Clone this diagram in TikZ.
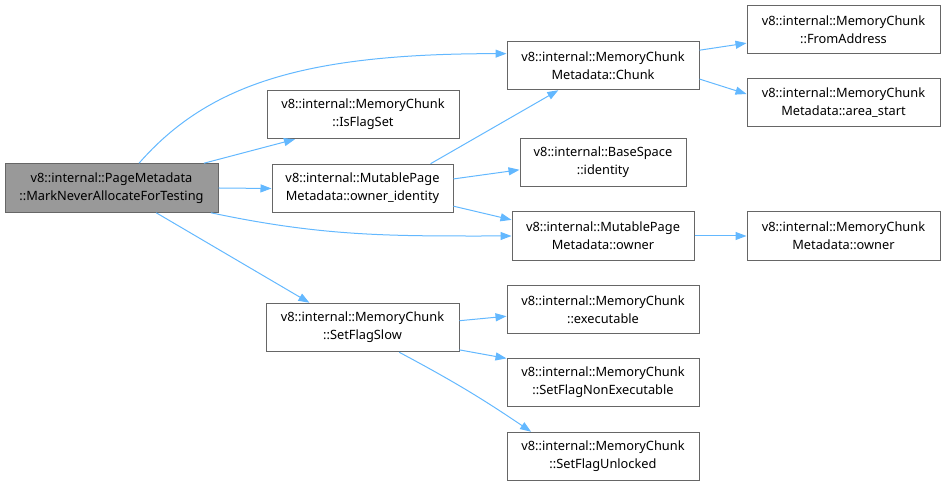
\documentclass[tikz,border=0pt]{standalone}
\usepackage{fontspec}
\setmainfont{Noto Sans}
\usepackage{tikz}
\usetikzlibrary{arrows.meta}
\usepackage{xcolor}
\definecolor{bord}{RGB}{102,102,102}
\definecolor{gris}{RGB}{153,153,153}
\definecolor{bleuciel}{RGB}{99,184,255}

\begin{document}
\begin{tikzpicture}[x=1pt,y=1pt,>={Triangle[length=11pt,width=8pt]},
  boite/.style={draw=bord,line width=1pt,fill=white,align=center,inner sep=0pt,
    minimum height=48.5pt,font=\fontsize{12.8}{18}\selectfont},
  fleche/.style={->,bleuciel,line width=1pt}]
  \useasboundingbox (0,0) rectangle (945,486);
  % fonction appelante
  \node[boite,fill=gris,minimum width=213pt] (racine) at (111.5,298)
    {v8::internal::PageMetadata\\::MarkNeverAllocateForTesting};
  % deuxieme colonne
  \node[boite,minimum width=192pt] (isflag) at (363,371.5)
    {v8::internal::MemoryChunk\\::IsFlagSet};
  \node[boite,minimum width=181pt] (ownid) at (362.5,297.5)
    {v8::internal::MutablePage\\Metadata::owner\_identity};
  \node[boite,minimum width=193pt] (setslow) at (362.5,158.5)
    {v8::internal::MemoryChunk\\::SetFlagSlow};
  % troisieme colonne
  \node[boite,minimum width=192pt] (chunk) at (603,420.5)
    {v8::internal::MemoryChunk\\Metadata::Chunk};
  \node[boite,minimum width=166pt] (ident) at (603,323.5)
    {v8::internal::BaseSpace\\::identity};
  \node[boite,minimum width=182pt] (mpowner) at (603,250)
    {v8::internal::MutablePage\\Metadata::owner};
  \node[boite,minimum width=192pt] (exec) at (603,176.5)
    {v8::internal::MemoryChunk\\::executable};
  \node[boite,minimum width=192pt] (nonexec) at (603,103.5)
    {v8::internal::MemoryChunk\\::SetFlagNonExecutable};
  \node[boite,minimum width=192pt] (unlocked) at (603,29.5)
    {v8::internal::MemoryChunk\\::SetFlagUnlocked};
  % quatrieme colonne
  \node[boite,minimum width=193pt] (fromaddr) at (843.5,456.5)
    {v8::internal::MemoryChunk\\::FromAddress};
  \node[boite,minimum width=193pt] (areastart) at (843.5,383.5)
    {v8::internal::MemoryChunk\\Metadata::area\_start};
  \node[boite,minimum width=193pt] (mcowner) at (843.5,250)
    {v8::internal::MemoryChunk\\Metadata::owner};
  % appels
  \draw[fleche] (racine.42) .. controls +(70,80) and +(-200,0) .. (chunk.173.8);
  \draw[fleche] (racine.15.5) -- (isflag.200.5);
  \draw[fleche] (racine.east) -- (ownid.west);
  \draw[fleche] (racine.-14.4) to[out=-12,in=180] (mpowner.west);
  \draw[fleche] (racine.-29) -- (setslow.155);
  \draw[fleche] (ownid.20) -- (chunk.209.7);
  \draw[fleche] (ownid.6.5) -- (ident.185);
  \draw[fleche] (ownid.-11.3) -- (mpowner.170);
  \draw[fleche] (chunk.9) -- (fromaddr.188);
  \draw[fleche] (chunk.-8.6) -- (areastart.175.5);
  \draw[fleche] (mpowner.east) -- (mcowner.west);
  \draw[fleche] (setslow.4.4) -- (exec.184.5);
  \draw[fleche] (setslow.-13) -- (nonexec.166.8);
  \draw[fleche] (setslow.-34.6) to[bend left=3] (unlocked.161.5);
\end{tikzpicture}
\end{document}
